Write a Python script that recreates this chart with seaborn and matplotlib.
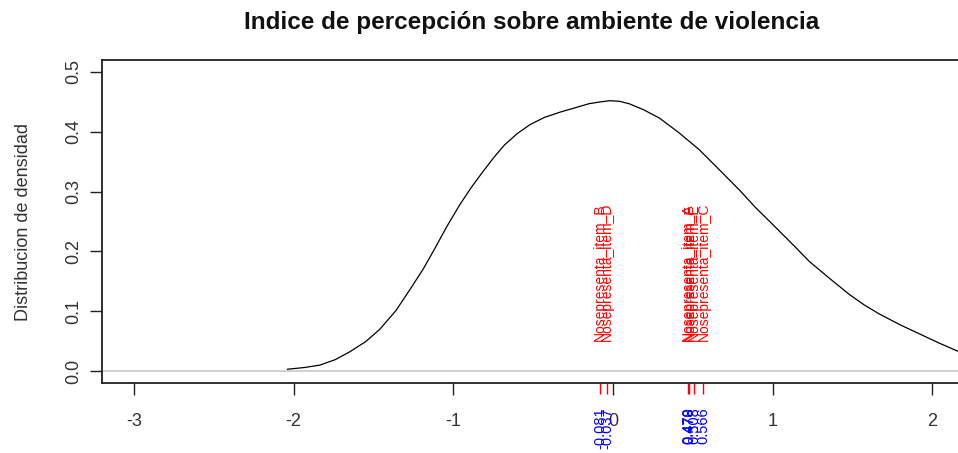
import numpy as np
import matplotlib
matplotlib.use("Agg")
import matplotlib.pyplot as plt
import matplotlib.transforms as mtransforms
import seaborn as sns
import pandas as pd

# density curve
curve_x = [-2.04, -1.93, -1.835, -1.74, -1.65, -1.55, -1.46, -1.36, -1.27, -1.19, -1.12,
           -1.04, -0.96, -0.89, -0.83, -0.75, -0.68, -0.60, -0.52, -0.43, -0.33, -0.24,
           -0.15, -0.08, -0.02, 0.04, 0.10, 0.19, 0.29, 0.41, 0.54, 0.66, 0.79, 0.89,
           1.00, 1.12, 1.23, 1.36, 1.48, 1.57, 1.67, 1.80, 1.92, 2.04, 2.16]
curve_y = [0.003, 0.006, 0.010, 0.019, 0.032, 0.049, 0.070, 0.101, 0.137, 0.170, 0.203,
           0.242, 0.278, 0.306, 0.328, 0.356, 0.378, 0.397, 0.412, 0.424, 0.433, 0.440,
           0.447, 0.450, 0.452, 0.451, 0.447, 0.437, 0.423, 0.399, 0.370, 0.338, 0.303,
           0.274, 0.245, 0.213, 0.183, 0.154, 0.128, 0.111, 0.095, 0.077, 0.062, 0.047, 0.033]

item_names = ["Nosepresenta_item_B", "Nosepresenta_item_D", "Nosepresenta_item_A",
              "Nosepresenta_item_F", "Nosepresenta_item_E", "Nosepresenta_item_C"]
item_values = [-0.081, -0.037, 0.470, 0.478, 0.508, 0.566]
value_labels = ["-0.081", "-0.037", "0.470", "0.478", "0.508", "0.566"]

x_ticks = [-3, -2, -1, 0, 1, 2]
y_ticks = [0.0, 0.1, 0.2, 0.3, 0.4, 0.5]

sns.set_style("white")
plt.rcParams['font.family'] = ['Liberation Sans', 'DejaVu Sans']

fig = plt.figure(figsize=(9.58, 4.53), dpi=100)
ax = fig.add_axes([0.1065, 0.1545, 0.8935, 0.713])

df = pd.DataFrame({'x': curve_x, 'y': curve_y})
ax.axhline(0, color='#c8c8c8', linewidth=1.2, zorder=1)
sns.lineplot(data=df, x='x', y='y', color='black', linewidth=0.9, ax=ax, zorder=3)

ax.set_xlim(-3.2, 2.16)
ax.set_ylim(-0.02, 0.52)
ax.set_xticks(x_ticks)
ax.set_xticklabels([str(t) for t in x_ticks])
ax.set_yticks(y_ticks)
ax.set_yticklabels(["%.1f" % t for t in y_ticks], rotation=90, va='center')
ax.tick_params(bottom=True, left=True, direction='out', length=8.5, width=1.0,
               color='#222222', labelsize=13, labelcolor='#333333')
ax.tick_params(axis='x', pad=13)
ax.tick_params(axis='y', pad=6)
ax.set_xlabel(None)
ax.set_ylabel("Distribucion de densidad", fontsize=13, color='#333333', labelpad=24)

for s in ['left', 'bottom', 'top']:
    ax.spines[s].set_linewidth(1.3)
    ax.spines[s].set_color('#222222')
ax.spines['right'].set_visible(False)

# rug below the axis and labels
trans = mtransforms.blended_transform_factory(ax.transData, ax.transAxes)
ax.vlines(item_values, 0, -0.034, colors='red', linewidth=1.0, transform=trans, clip_on=False)
for v, name, lab in zip(item_values, item_names, value_labels):
    ax.text(v, 0.05, name, rotation=90, color='red', fontsize=10, ha='center', va='bottom')
    ax.text(v, -0.075, lab, rotation=90, color='blue', fontsize=10.5, ha='center', va='top',
            transform=trans, clip_on=False)

fig.suptitle("Indice de percepción sobre ambiente de violencia", x=532 / 958, y=0.975,
             fontsize=17.5, fontweight='bold', color='#111111')

fig.savefig("out.png", dpi=100)
